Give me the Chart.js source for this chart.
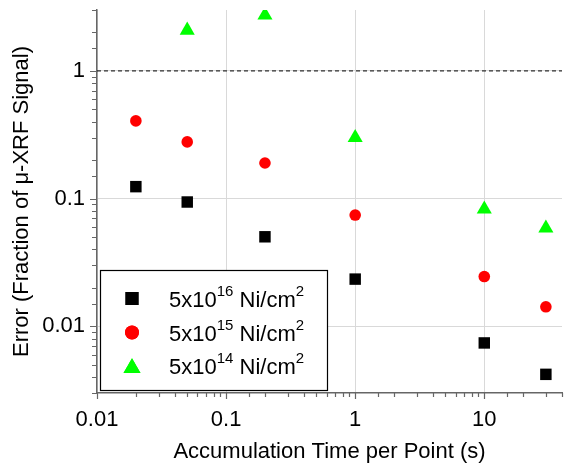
<!DOCTYPE html>
<html>
<head>
<meta charset="utf-8">
<script src="https://cdn.jsdelivr.net/npm/chart.js@4"></script>
<style>
  html, body { margin: 0; padding: 0; background: #fff; }
  #wrap { width: 564px; height: 463px; }
</style>
</head>
<body>
<div id="wrap"><canvas id="myChart" width="564" height="463"></canvas></div>
<script>
// accumulation time per point (s)
const times = [0.02, 0.05, 0.2, 1, 10, 30];
// error as fraction of u-XRF signal, one list per Ni dose
const err16 = [0.124, 0.094, 0.0502, 0.0234, 0.0074, 0.0042];
const err15 = [0.406, 0.278, 0.19, 0.0743, 0.0245, 0.0142];
const err14 = [null, 2.08, 2.73, 0.30, 0.0825, 0.0586];
const seriesNames = ['5x10|16| Ni/cm|2|', '5x10|15| Ni/cm|2|', '5x10|14| Ni/cm|2|'];
const xTickLabels = ['0.01', '0.1', '1', '10'];
const yTickLabels = ['0.01', '0.1', '1'];
const limitLine = 1;

const FONT = "'Liberation Sans', Arial, sans-serif";

function toPoints(ys) {
  const pts = [];
  ys.forEach((y, i) => {
    if (y !== null) pts.push({ x: times[i], y: y });
  });
  return pts;
}

function isDecade(v) {
  const l = Math.log10(v);
  return Math.abs(l - Math.round(l)) < 1e-9;
}

function pickLabel(list) {
  return function (value) {
    if (!isDecade(value)) return '';
    const hit = list.find(s => Math.abs(parseFloat(s) - value) < value * 1e-6);
    return hit || '';
  };
}

// ticks drawn by hand so majors are longer than minors
const tickMarks = {
  id: 'tickMarks',
  afterDraw(chart) {
    const ctx = chart.ctx;
    const xs = chart.scales.x, ys = chart.scales.y;
    ctx.save();
    ctx.strokeStyle = '#666';
    ctx.lineWidth = 1.2;
    ctx.beginPath();
    xs.ticks.forEach(t => {
      const px = Math.round(xs.getPixelForValue(t.value)) + 0.5;
      const len = isDecade(t.value) ? 6 : 4;
      ctx.moveTo(px, xs.top);
      ctx.lineTo(px, xs.top + len);
    });
    ys.ticks.forEach(t => {
      const py = Math.round(ys.getPixelForValue(t.value)) + 0.5;
      const len = isDecade(t.value) ? 7 : 5;
      ctx.moveTo(ys.right, py);
      ctx.lineTo(ys.right - len, py);
    });
    ctx.stroke();
    ctx.restore();
  }
};

// boxed legend with superscript text
const boxLegend = {
  id: 'boxLegend',
  afterDraw(chart) {
    const ctx = chart.ctx;
    const a = chart.chartArea;
    const left = a.left + 3.5, top = a.bottom - 122.5;
    const w = 227, h = 120;
    ctx.save();
    ctx.fillStyle = '#fff';
    ctx.fillRect(left, top, w, h);
    ctx.strokeStyle = '#000';
    ctx.lineWidth = 1.2;
    ctx.strokeRect(left, top, w, h);
    const rowY = [28, 62, 95];
    chart.data.datasets.forEach((ds, i) => {
      if (i >= seriesNames.length) return;
      const cy = top + rowY[i];
      const r = ds.pointStyle === 'rect' ? 9.2 : (ds.pointStyle === 'circle' ? 7 : 9.8);
      ctx.fillStyle = ds.backgroundColor;
      ctx.strokeStyle = ds.backgroundColor;
      Chart.helpers.drawPoint(ctx, { pointStyle: ds.pointStyle, rotation: 0, radius: r, borderWidth: 0 },
        left + 31.5, ds.pointStyle === 'triangle' ? cy + 2.5 : cy);
      ctx.fill();
      // text pieces: normal|sup|normal|sup
      const parts = seriesNames[i].split('|');
      let x = left + 68.5;
      const base = cy + 8.4;
      ctx.fillStyle = '#000';
      ctx.textBaseline = 'alphabetic';
      ctx.textAlign = 'left';
      parts.forEach((p, k) => {
        if (!p) return;
        const sup = k % 2 === 1;
        ctx.font = (sup ? '15px ' : '22px ') + FONT;
        ctx.fillText(p, x, sup ? base - 11 : base);
        x += ctx.measureText(p).width;
      });
    });
    ctx.restore();
  }
};

function initChart() {
  const ctx = document.getElementById('myChart');
  return new Chart(ctx, {
    type: 'scatter',
    data: {
      datasets: [
        { label: seriesNames[0], data: toPoints(err16), pointStyle: 'rect', pointRadius: 8.1,
          backgroundColor: '#000000', borderColor: '#000000', borderWidth: 0 },
        { label: seriesNames[1], data: toPoints(err15), pointStyle: 'circle', pointRadius: 5.8,
          backgroundColor: '#ff0000', borderColor: '#ff0000', borderWidth: 0 },
        { label: seriesNames[2], data: toPoints(err14), pointStyle: 'triangle', pointRadius: 8.7,
          backgroundColor: '#00ff00', borderColor: '#00ff00', borderWidth: 0 },
        { type: 'line', label: 'limit', data: [{ x: 0.01, y: limitLine }, { x: 40, y: limitLine }],
          borderColor: '#000', borderWidth: 1, borderDash: [4, 3], pointRadius: 0, order: 5 }
      ]
    },
    options: {
      responsive: false,
      animation: false,
      events: [],
      layout: { autoPadding: false, padding: { left: 0, right: 2, top: 10, bottom: 0 } },
      plugins: { legend: { display: false }, tooltip: { enabled: false } },
      scales: {
        x: {
          type: 'logarithmic',
          min: 0.01,
          max: 40,
          afterFit: s => { s.height = 70; s.paddingLeft = 0; s.paddingRight = 0; },
          border: { color: '#666', width: 1.5 },
          grid: {
            color: c => (c.tick && isDecade(c.tick.value)) ? '#d9d9d9' : 'rgba(0,0,0,0)',
            lineWidth: 1,
            tickLength: 6,
            tickColor: 'rgba(0,0,0,0)'
          },
          ticks: {
            autoSkip: false, maxRotation: 0, minRotation: 0,
            callback: pickLabel(xTickLabels),
            color: '#000', padding: 8,
            font: { family: FONT, size: 22 }
          },
          title: {
            display: true, text: 'Accumulation Time per Point (s)',
            color: '#000', padding: { top: 0, bottom: -2 },
            font: { family: FONT, size: 22 }
          }
        },
        y: {
          type: 'logarithmic',
          min: 0.003,
          max: 3,
          afterFit: s => { s.width = 97; s.paddingTop = 0; s.paddingBottom = 0; },
          border: { color: '#666', width: 1.5 },
          grid: {
            color: c => (c.tick && isDecade(c.tick.value)) ? '#d9d9d9' : 'rgba(0,0,0,0)',
            lineWidth: 1,
            tickLength: 7,
            tickColor: 'rgba(0,0,0,0)'
          },
          ticks: {
            autoSkip: false,
            callback: pickLabel(yTickLabels),
            color: '#000', padding: 5,
            font: { family: FONT, size: 22 }
          },
          title: {
            display: true, text: 'Error (Fraction of \u03bc-XRF Signal)',
            color: '#000', padding: { top: 9, bottom: 0 },
            font: { family: FONT, size: 22 }
          }
        }
      }
    },
    plugins: [tickMarks, boxLegend]
  });
}

document.addEventListener('DOMContentLoaded', () => initChart());
</script>
</body>
</html>
